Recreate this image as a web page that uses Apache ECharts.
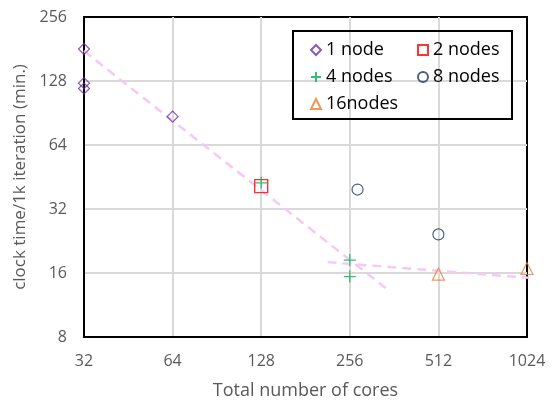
<!DOCTYPE html>
<html>
<head>
<meta charset="utf-8">
<script src="https://cdn.jsdelivr.net/npm/echarts@6/dist/echarts.min.js"></script>
<style>
	html, body { margin: 0; padding: 0; background: #fff; }
	#main { width: 554px; height: 405px; }
</style>
</head>
<body>
<div id="main"></div>
<script>
// values (cores, minutes per 1k iterations)
var node1X = [32, 32, 32, 64];
var node1Y = [181, 125, 118, 87];
var node2X = [128];
var node2Y = [41];
var node4X = [128, 256, 256];
var node4Y = [42.5, 18.4, 15.4];
var node8X = [272, 512];
var node8Y = [39.5, 24.3];
var node16X = [512, 1024];
var node16Y = [15.8, 16.8];
// dashed trend lines
var trend1X = [32, 339];
var trend1Y = [177, 13.6];
var trend2X = [215, 1276];
var trend2Y = [18, 14.85];
var xTicks = [32, 64, 128, 256, 512, 1024];
var yTicks = [8, 16, 32, 64, 128, 256];

function pairs(xs, ys) {
	var out = [];
	for (var i = 0; i < xs.length; i++) out.push([xs[i], ys[i]]);
	return out;
}

var fontName = 'Open Sans';
var plusPath = 'path://M5,0L5,10M0,5L10,5';
var gridLine = { show : true, showMinLine : false, showMaxLine : false, lineStyle : { color : '#d9d9d9', width : 2 } };

var myChart = echarts.init(document.getElementById('main'));
var option = {
	animation : false,
	textStyle : { fontFamily : fontName },
	grid : { left : 84, right : 27, top : 17, bottom : 68, show : true, borderColor : '#000', borderWidth : 2 },
	xAxis : {
		type : 'log',
		logBase : 2,
		min : xTicks[0],
		max : xTicks[xTicks.length - 1],
		name : 'Total number of cores',
		nameLocation : 'middle',
		nameGap : 45,
		nameTextStyle : { fontSize : 18, color : '#595959', fontFamily : fontName },
		axisLine : { show : true, lineStyle : { color : '#000', width : 2 } },
		axisTick : { show : false },
		axisLabel : { fontSize : 16, color : '#595959', margin : 16, formatter : function(v) { return Math.round(v); } },
		splitLine : gridLine
	},
	yAxis : {
		type : 'log',
		logBase : 2,
		min : yTicks[0],
		max : yTicks[yTicks.length - 1],
		name : 'clock time/1k iteration (min.)',
		nameLocation : 'middle',
		nameGap : 55,
		nameTextStyle : { fontSize : 17, color : '#595959', fontFamily : fontName },
		axisLine : { show : true, lineStyle : { color : '#000', width : 2 } },
		axisTick : { show : false },
		axisLabel : { fontSize : 16, color : '#595959', margin : 17, formatter : function(v) { return Math.round(v); } },
		splitLine : gridLine
	},
	legend : [ {
		orient : 'vertical',
		left : 305,
		top : 36,
		itemGap : 9,
		itemWidth : 10,
		itemHeight : 10,
		textStyle : { fontSize : 18, color : '#000', fontFamily : fontName },
		data : [ '1 node', '4 nodes', '16nodes' ]
	}, {
		orient : 'vertical',
		left : 412,
		top : 36,
		itemGap : 9,
		itemWidth : 10,
		itemHeight : 10,
		textStyle : { fontSize : 18, color : '#000', fontFamily : fontName },
		data : [ '2 nodes', '8 nodes' ]
	} ],
	graphic : [ {
		type : 'rect',
		shape : { x : 293, y : 31, width : 219, height : 88 },
		style : { fill : 'none', stroke : '#000', lineWidth : 2 },
		z : 10
	} ],
	series : [ {
		name : 'trend1',
		type : 'line',
		data : pairs(trend1X, trend1Y),
		symbol : 'none',
		clip : false,
		silent : true,
		lineStyle : { color : '#f8c8f4', width : 2.5, type : [9, 6] },
		z : 1
	}, {
		name : 'trend2',
		type : 'line',
		data : pairs(trend2X, trend2Y),
		symbol : 'none',
		clip : false,
		silent : true,
		lineStyle : { color : '#f8c8f4', width : 2.5, type : [9, 6] },
		z : 1
	}, {
		name : '1 node',
		type : 'scatter',
		data : pairs(node1X, node1Y),
		symbol : 'diamond',
		symbolSize : 11,
		itemStyle : { color : 'rgba(255,255,255,0)', borderColor : '#7030a0', borderWidth : 1.2 }
	}, {
		name : '2 nodes',
		type : 'scatter',
		data : pairs(node2X, node2Y),
		symbol : 'rect',
		symbolSize : 13,
		itemStyle : { color : 'rgba(255,255,255,0)', borderColor : '#ff0000', borderWidth : 1.4 }
	}, {
		name : '4 nodes',
		type : 'scatter',
		data : pairs(node4X, node4Y),
		symbol : plusPath,
		symbolSize : 12,
		itemStyle : { color : 'rgba(255,255,255,0)', borderColor : '#00b050', borderWidth : 1.2 }
	}, {
		name : '8 nodes',
		type : 'scatter',
		data : pairs(node8X, node8Y),
		symbol : 'circle',
		symbolSize : 11,
		itemStyle : { color : 'rgba(255,255,255,0)', borderColor : '#203864', borderWidth : 1.2 }
	}, {
		name : '16nodes',
		type : 'scatter',
		data : pairs(node16X, node16Y),
		symbol : 'triangle',
		symbolSize : 12,
		itemStyle : { color : 'rgba(255,255,255,0)', borderColor : '#ed7d31', borderWidth : 1.2 }
	} ]
};
myChart.setOption(option);
</script>
</body>
</html>
